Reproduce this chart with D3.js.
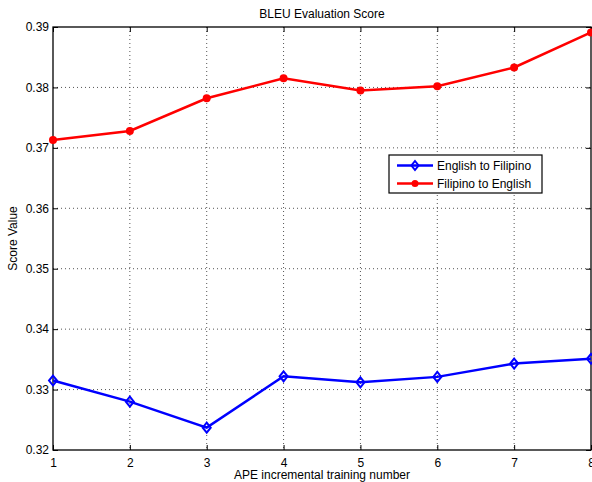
<!DOCTYPE html>
<html><head><meta charset="utf-8">
<script src="https://cdn.jsdelivr.net/npm/d3@7"></script>
<style>body{margin:0;background:#fff}svg{display:block}text{font-family:"Liberation Sans",Arial,sans-serif}</style>
</head><body>
<svg id="c" width="592" height="482"></svg>
<script>
const xTicks = [1,2,3,4,5,6,7,8];
const yTicks = [0.32,0.33,0.34,0.35,0.36,0.37,0.38,0.39];
const engToFil = [0.3315,0.3280,0.3237,0.3322,0.3312,0.3321,0.3343,0.3351];
const filToEng = [0.3713,0.3728,0.3782,0.3815,0.3795,0.3802,0.3833,0.3891];
const seriesNames = ["English to Filipino","Filipino to English"];

const svg = d3.select("#c");
const L=53, R=591, T=27, B=450;
const x = d3.scaleLinear().domain([1,8]).range([L,R]);
const y = d3.scaleLinear().domain([0.32,0.39]).range([B,T]);

// grid
const g = svg.append("g");
g.selectAll("line.vg").data(xTicks.slice(1,-1)).enter().append("line")
 .attr("x1",d=>x(d)).attr("x2",d=>x(d)).attr("y1",T).attr("y2",B)
 .attr("stroke","#555").attr("stroke-width",1).attr("stroke-dasharray","1,3");
g.selectAll("line.hg").data(yTicks.slice(1,-1)).enter().append("line")
 .attr("y1",d=>y(d)).attr("y2",d=>y(d)).attr("x1",L).attr("x2",R)
 .attr("stroke","#555").attr("stroke-width",1).attr("stroke-dasharray","1,3");

// axes
const fmt = d3.format(".2f");
const ax = svg.append("g").attr("transform",`translate(0,${B})`)
 .call(d3.axisBottom(x).tickValues(xTicks).tickSize(-5).tickPadding(8).tickFormat(d3.format("d")));
const ay = svg.append("g").attr("transform",`translate(${L},0)`)
 .call(d3.axisLeft(y).tickValues(yTicks).tickSize(-5).tickPadding(4).tickFormat(fmt));
const at = svg.append("g").attr("transform",`translate(0,${T})`)
 .call(d3.axisTop(x).tickValues(xTicks).tickSize(-5).tickFormat(""));
const ar = svg.append("g").attr("transform",`translate(${R},0)`)
 .call(d3.axisRight(y).tickValues(yTicks).tickSize(-5).tickFormat(""));
[ax,ay,at,ar].forEach(a=>{
  a.select(".domain").remove();
  a.selectAll("line").attr("stroke","#000");
  a.selectAll("text").attr("fill","#000").style("font-size","12px").style("font-family",'"Liberation Sans",Arial,sans-serif');
});
svg.append("rect").attr("x",L).attr("y",T).attr("width",R-L).attr("height",B-T)
 .attr("fill","none").attr("stroke","#000").attr("stroke-width",1.3);

// lines
const line = d3.line().x((d,i)=>x(xTicks[i])).y(d=>y(d));
svg.append("path").datum(engToFil).attr("d",line).attr("fill","none").attr("stroke","#0000ff").attr("stroke-width",2.5);
svg.append("path").datum(filToEng).attr("d",line).attr("fill","none").attr("stroke","#ff0000").attr("stroke-width",2.5);
const diamond = (cx,cy,s)=>`M${cx},${cy-s}L${cx+s*0.8},${cy}L${cx},${cy+s}L${cx-s*0.8},${cy}Z`;
svg.selectAll("path.dm").data(engToFil).enter().append("path")
 .attr("d",(d,i)=>diamond(x(xTicks[i]),y(d),5)).attr("fill","none").attr("stroke","#0000ff").attr("stroke-width",2);
svg.selectAll("circle.pt").data(filToEng).enter().append("circle")
 .attr("cx",(d,i)=>x(xTicks[i])).attr("cy",d=>y(d)).attr("r",4).attr("fill","#ff0000");

// legend
svg.append("rect").attr("x",389).attr("y",155).attr("width",153).attr("height",38)
 .attr("fill","#fff").attr("stroke","#000").attr("stroke-width",1.2);
const ly=[165.5,183.5];
svg.append("line").attr("x1",397).attr("x2",433).attr("y1",ly[0]).attr("y2",ly[0]).attr("stroke","#0000ff").attr("stroke-width",2.5);
svg.append("path").attr("d",diamond(415,ly[0],4.5)).attr("fill","none").attr("stroke","#0000ff").attr("stroke-width",2);
svg.append("line").attr("x1",397).attr("x2",433).attr("y1",ly[1]).attr("y2",ly[1]).attr("stroke","#ff0000").attr("stroke-width",2.5);
svg.append("circle").attr("cx",415).attr("cy",ly[1]).attr("r",3.5).attr("fill","#ff0000");
seriesNames.forEach((n,i)=>svg.append("text").attr("x",437).attr("y",ly[i]+4).text(n).style("font-size","12px").attr("fill","#000"));

// labels
svg.append("text").attr("x",(L+R)/2).attr("y",18).attr("text-anchor","middle").style("font-size","12px").text("BLEU Evaluation Score");
svg.append("text").attr("x",(L+R)/2).attr("y",479).attr("text-anchor","middle").style("font-size","12px").text("APE incremental training number");
svg.append("text").attr("transform",`translate(17,${(T+B)/2}) rotate(-90)`).attr("text-anchor","middle").style("font-size","12px").text("Score Value");
</script>
</body></html>
